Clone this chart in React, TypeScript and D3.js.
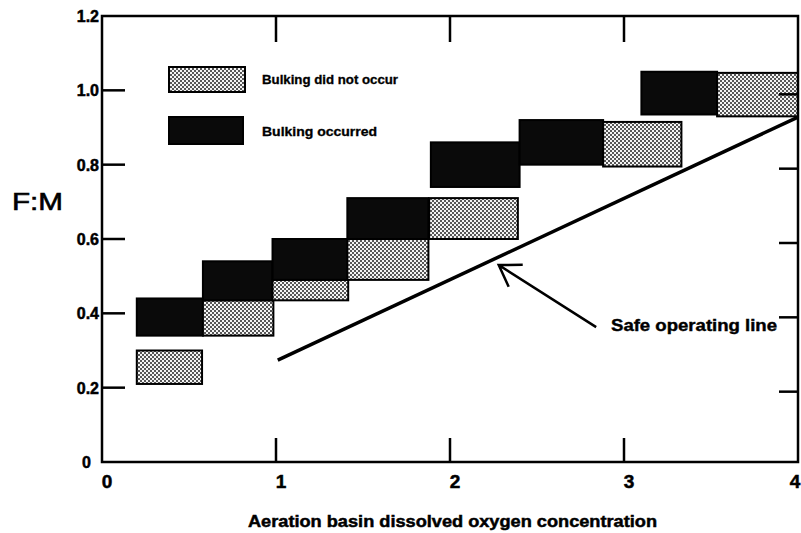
import React, { useEffect, useRef } from 'react';
import * as d3 from 'd3';

// F:M ranges observed against aeration basin DO, one box per observation
const boxDOStart = [0.2, 0.2, 0.58, 0.58, 0.98, 0.98, 1.41, 1.41, 1.88, 1.89, 2.4, 2.88, 3.1, 3.535];
const boxDOEnd = [0.575, 0.58, 0.985, 0.98, 1.415, 1.415, 1.876, 1.876, 2.39, 2.4, 2.88, 3.33, 3.535, 4.0];
const boxFMLow = [0.21, 0.34, 0.34, 0.435, 0.435, 0.49, 0.6, 0.49, 0.6, 0.74, 0.8, 0.795, 0.935, 0.93];
const boxFMHigh = [0.3, 0.44, 0.435, 0.54, 0.49, 0.6, 0.71, 0.6, 0.71, 0.86, 0.92, 0.915, 1.05, 1.047];
const bulkingOccurred = [false, true, false, true, false, true, true, false, false, true, true, false, true, false];

const safeLineDO = [1.01, 4.0];
const safeLineFM = [0.274, 0.928];

const arrowTipDO = 2.28;
const arrowTipFM = 0.53;
const arrowTailDO = 2.84;
const arrowTailFM = 0.363;

const xTicks = [0, 1, 2, 3, 4];
const yTicks = [0, 0.2, 0.4, 0.6, 0.8, 1.0, 1.2];
const yTickLabels = ['0', '0.2', '0.4', '0.6', '0.8', '1.0', '1.2'];

const legendLabels = ['Bulking did not occur', 'Bulking occurred'];

const FONT = '"Liberation Sans", Arial, sans-serif';

function Chart() {
    const ref = useRef<SVGSVGElement>(null);

    useEffect(() => {
        const svg = d3.select(ref.current);
        svg.selectAll('*').remove();

        const x = d3.scaleLinear().domain([0, 4]).range([102, 798]);
        const y = d3.scaleLinear().domain([0, 1.2]).range([462, 16]);

        // stipple fill for "did not occur"
        const defs = svg.append('defs');
        const pat = defs.append('pattern')
            .attr('id', 'stipple')
            .attr('patternUnits', 'userSpaceOnUse')
            .attr('width', 4)
            .attr('height', 4);
        pat.append('rect').attr('width', 4).attr('height', 4).attr('fill', '#f4f4f4');
        pat.append('circle').attr('cx', 1).attr('cy', 1).attr('r', 1.0).attr('fill', '#222');
        pat.append('circle').attr('cx', 3).attr('cy', 3).attr('r', 1.0).attr('fill', '#222');

        const g = svg.append('g');

        // boxes
        const idx = d3.range(boxDOStart.length);
        g.selectAll('rect.box')
            .data(idx)
            .enter().append('rect')
            .attr('class', 'box')
            .attr('x', i => x(boxDOStart[i]))
            .attr('y', i => y(boxFMHigh[i]))
            .attr('width', i => x(boxDOEnd[i]) - x(boxDOStart[i]))
            .attr('height', i => y(boxFMLow[i]) - y(boxFMHigh[i]))
            .attr('fill', i => bulkingOccurred[i] ? '#0a0a0a' : 'url(#stipple)')
            .attr('stroke', '#000')
            .attr('stroke-width', 2);

        // frame
        g.append('rect')
            .attr('x', x(0))
            .attr('y', y(1.2))
            .attr('width', x(4) - x(0))
            .attr('height', y(0) - y(1.2))
            .attr('fill', 'none')
            .attr('stroke', '#000')
            .attr('stroke-width', 2.5);

        // inner ticks
        const inner = [1, 2, 3];
        g.selectAll('line.btick').data(inner).enter().append('line')
            .attr('x1', d => x(d)).attr('x2', d => x(d))
            .attr('y1', y(0)).attr('y2', y(0) - 24)
            .attr('stroke', '#000').attr('stroke-width', 2.5);
        g.selectAll('line.ttick').data(inner).enter().append('line')
            .attr('x1', d => x(d)).attr('x2', d => x(d))
            .attr('y1', y(1.2)).attr('y2', y(1.2) + 26)
            .attr('stroke', '#000').attr('stroke-width', 2.5);
        const innerY = [0.2, 0.4, 0.6, 0.8, 1.0];
        g.selectAll('line.ltick').data(innerY).enter().append('line')
            .attr('x1', x(0)).attr('x2', x(0) + 23)
            .attr('y1', d => y(d)).attr('y2', d => y(d))
            .attr('stroke', '#000').attr('stroke-width', 2.5);
        g.selectAll('line.rtick').data(innerY).enter().append('line')
            .attr('x1', x(4)).attr('x2', x(4) - 19)
            .attr('y1', d => y(d) + 4).attr('y2', d => y(d) + 4)
            .attr('stroke', '#000').attr('stroke-width', 2.5);

        // tick labels
        g.selectAll('text.ylab').data(yTicks).enter().append('text')
            .attr('x', (d, i) => i === 0 ? 91 : 99)
            .attr('y', d => y(d) + 6)
            .attr('text-anchor', 'end')
            .attr('font-family', FONT)
            .attr('font-weight', 'bold')
            .attr('font-size', 16)
            .attr('stroke', '#000').attr('stroke-width', 0.5)
            .text((d, i) => yTickLabels[i]);
        g.selectAll('text.xlab').data(xTicks).enter().append('text')
            .attr('x', d => d === 4 ? x(d) - 3 : x(d) + 5)
            .attr('y', 488)
            .attr('text-anchor', 'middle')
            .attr('font-family', FONT)
            .attr('font-weight', 'bold')
            .attr('font-size', 19)
            .attr('stroke', '#000').attr('stroke-width', 0.5)
            .text(d => String(d));

        // axis titles
        g.append('text')
            .attr('x', 248).attr('y', 527)
            .attr('font-family', FONT)
            .attr('font-weight', 'bold')
            .attr('font-size', 17)
            .attr('textLength', 409)
            .attr('lengthAdjust', 'spacingAndGlyphs')
            .attr('stroke', '#000').attr('stroke-width', 0.5)
            .text('Aeration basin dissolved oxygen concentration');
        g.append('text')
            .attr('x', 12).attr('y', 210)
            .attr('font-family', FONT)
            .attr('font-size', 24)
            .attr('textLength', 51)
            .attr('lengthAdjust', 'spacingAndGlyphs')
            .attr('stroke', '#000').attr('stroke-width', 0.6)
            .text('F:M');

        // safe operating line
        g.append('line')
            .attr('x1', x(safeLineDO[0])).attr('y1', y(safeLineFM[0]))
            .attr('x2', x(safeLineDO[1])).attr('y2', y(safeLineFM[1]))
            .attr('stroke', '#000').attr('stroke-width', 3.5);

        // arrow
        const tx = x(arrowTipDO), ty = y(arrowTipFM);
        const sx = x(arrowTailDO), sy = y(arrowTailFM);
        const ang = Math.atan2(sy - ty, sx - tx);
        const wing = 24, spread = 33 * Math.PI / 180;
        const arrowPath = d3.path();
        arrowPath.moveTo(sx, sy);
        arrowPath.lineTo(tx, ty);
        arrowPath.moveTo(tx + wing * Math.cos(ang - spread), ty + wing * Math.sin(ang - spread));
        arrowPath.lineTo(tx, ty);
        arrowPath.lineTo(tx + wing * Math.cos(ang + spread), ty + wing * Math.sin(ang + spread));
        g.append('path')
            .attr('d', arrowPath.toString())
            .attr('fill', 'none')
            .attr('stroke', '#000')
            .attr('stroke-width', 2.5);
        g.append('text')
            .attr('x', 611).attr('y', 331)
            .attr('font-family', FONT)
            .attr('font-weight', 'bold')
            .attr('font-size', 16)
            .attr('textLength', 166)
            .attr('lengthAdjust', 'spacingAndGlyphs')
            .attr('stroke', '#000').attr('stroke-width', 0.4)
            .text('Safe operating line');

        // legend
        const legend = g.append('g');
        const legendY = [67, 117];
        legend.selectAll('rect').data(legendLabels).enter().append('rect')
            .attr('x', 169)
            .attr('y', (d, i) => legendY[i])
            .attr('width', (d, i) => i === 0 ? 76 : 74)
            .attr('height', (d, i) => i === 0 ? 25 : 27)
            .attr('fill', (d, i) => i === 0 ? 'url(#stipple)' : '#0a0a0a')
            .attr('stroke', '#000')
            .attr('stroke-width', 2);
        legend.selectAll('text').data(legendLabels).enter().append('text')
            .attr('x', 262)
            .attr('y', (d, i) => legendY[i] + (i === 0 ? 17 : 19))
            .attr('font-family', FONT)
            .attr('font-weight', 'bold')
            .attr('font-size', 12)
            .attr('textLength', (d, i) => i === 0 ? 136 : 115)
            .attr('lengthAdjust', 'spacingAndGlyphs')
            .attr('stroke', '#000').attr('stroke-width', 0.3)
            .text(d => d);
    }, []);

    return (
        <svg ref={ref} width={801} height={533}
            style={{ position: 'absolute', left: 0, top: 0, background: '#fff' }}></svg>
    );
}

export default function App() {
    return <Chart />;
}
